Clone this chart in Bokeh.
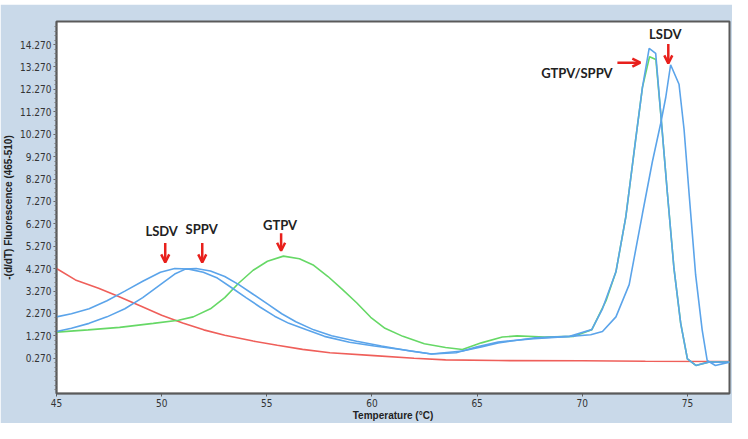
from bokeh.plotting import figure
from bokeh.models import Range1d, FixedTicker, Label, Arrow, OpenHead, Spacer
from bokeh.layouts import column
from bokeh.embed import file_html
from bokeh.resources import INLINE

# ---- data ----
red_t = [45, 45.9, 47, 47.9, 49, 50, 51, 52, 53, 54.35, 55.5, 56.7, 58, 60.1, 62, 63.5, 66, 70, 73, 77]
red_v = [4.28, 3.77, 3.40, 3.05, 2.60, 2.19, 1.85, 1.54, 1.30, 1.04, 0.85, 0.67, 0.52, 0.39, 0.27, 0.20, 0.17, 0.16, 0.14, 0.13]

gtpv_t = [45, 46.5, 48, 49.6, 50.8, 51.5, 52.32, 53.0, 53.67, 54.35, 55.03, 55.79, 56.55, 57.23, 57.91, 58.59,
          59.27, 59.94, 60.62, 61.47, 62.49, 63.5, 64.3, 65.2, 66.2, 66.9, 68.2, 69.6, 70.45, 71.13, 71.6, 72.07,
          72.54, 72.86, 73.2, 73.5, 73.73, 74.05, 74.36, 74.68, 75.0, 75.4, 76.0, 77.0]
gtpv_v = [1.44, 1.54, 1.65, 1.83, 1.97, 2.12, 2.48, 2.98, 3.63, 4.2, 4.6, 4.83, 4.71, 4.42, 3.92, 3.35,
          2.75, 2.1, 1.61, 1.25, 0.92, 0.75, 0.66, 0.96, 1.22, 1.27, 1.22, 1.25, 1.54, 2.84, 4.13, 6.58,
          10.05, 12.36, 13.73, 13.6, 11.2, 7.6, 4.28, 1.83, 0.24, -0.05, 0.10, 0.10]

sppv_t = [45, 45.71, 46.55, 47.4, 48.25, 49.1, 49.94, 50.62, 51.13, 51.64, 52.32, 53.0, 53.67, 54.35, 55.03,
          55.71, 56.38, 57.23, 58.08, 59.27, 60.45, 61.81, 62.83, 64.0, 65.0, 66.0, 67.7, 69.4, 70.45, 70.96,
          71.6, 72.07, 72.54, 72.86, 73.18, 73.49, 73.73, 74.05, 74.36, 74.68, 75.0, 75.4, 76.0, 77.0]
sppv_v = [1.47, 1.61, 1.83, 2.12, 2.48, 2.98, 3.56, 4.03, 4.25, 4.28, 4.17, 3.92, 3.56, 3.13, 2.70,
          2.26, 1.90, 1.54, 1.28, 1.03, 0.82, 0.60, 0.46, 0.52, 0.78, 1.0, 1.15, 1.25, 1.55, 2.48,
          4.13, 6.58, 10.05, 12.36, 14.1, 13.88, 11.2, 7.6, 4.28, 1.83, 0.24, -0.05, 0.10, 0.10]

lsdv_t = [45, 45.71, 46.55, 47.4, 48.25, 49.1, 49.94, 50.62, 51.3, 51.98, 52.65, 53.33, 54.01, 54.69, 55.37,
          56.05, 56.89, 57.74, 58.93, 60.11, 61.47, 62.83, 64.3, 65.2, 66.0, 67.7, 69.4, 70.4, 70.96, 71.6,
          72.23, 72.86, 73.33, 73.73, 73.97, 74.2, 74.6, 74.84, 75.08, 75.39, 75.7, 75.94, 76.33, 77.0]
lsdv_v = [2.12, 2.26, 2.48, 2.84, 3.27, 3.71, 4.11, 4.28, 4.25, 4.11, 3.85, 3.42, 2.98, 2.55, 2.15,
          1.83, 1.54, 1.25, 0.99, 0.82, 0.65, 0.46, 0.6, 0.78, 0.96, 1.18, 1.25, 1.32, 1.47, 2.12,
          3.56, 6.72, 9.03, 10.76, 11.92, 13.37, 12.5, 10.48, 7.6, 3.99, 1.54, 0.17, -0.05, 0.10]

x_ticks = [45, 50, 55, 60, 65, 70, 75]
x_tick_labels = ["45", "50", "55", "60", "65", "70", "75"]
y_ticks = [0.27, 1.27, 2.27, 3.27, 4.27, 5.27, 6.27, 7.27, 8.27, 9.27, 10.27, 11.27, 12.27, 13.27, 14.27]
y_tick_labels = ["0.270", "1.270", "2.270", "3.270", "4.270", "5.270", "6.270", "7.270", "8.270", "9.270",
                 "10.270", "11.270", "12.270", "13.270", "14.270"]

# annotations: (text, text x, text y, align, arrow x0, y0, x1, y1)
notes = [
    ("LSDV", 50.0, 5.94, "center", 50.17, 5.42, 50.17, 4.55),
    ("SPPV", 51.9, 6.03, "center", 51.93, 5.42, 51.93, 4.55),
    ("GTPV", 55.63, 6.24, "center", 55.68, 5.85, 55.68, 5.07),
    ("GTPV/SPPV", 71.44, 13.0, "right", 71.67, 13.46, 72.76, 13.46),
    ("LSDV", 73.95, 14.73, "center", 74.09, 14.3, 74.09, 13.43),
]

RED = "#ef5f5a"
GREEN = "#66d866"
BLUE = "#5ba4ea"
ARROW_RED = "#e8201c"
TICK_FONT = "'Liberation Sans Narrow', 'DejaVu Sans Condensed', 'Liberation Sans', sans-serif"

p = figure(width=732, height=419, x_range=Range1d(45, 77), y_range=Range1d(-1.3, 15.3),
           output_backend="svg", toolbar_location=None,
           min_border_left=55, min_border_top=17, min_border_right=3, min_border_bottom=20)
p.border_fill_color = "#c9d9e9"
p.background_fill_color = "white"
p.outline_line_color = "#5a5a5a"
p.outline_line_width = 2
p.grid.visible = False

p.line(red_t, red_v, line_color=RED, line_width=1.6)
p.line(gtpv_t, gtpv_v, line_color=GREEN, line_width=1.6)
p.line(lsdv_t, lsdv_v, line_color=BLUE, line_width=1.6)
p.line(sppv_t, sppv_v, line_color=BLUE, line_width=1.6)

for ax in (p.xaxis[0], p.yaxis[0]):
    ax.axis_line_color = "#5a5a5a"
    ax.axis_line_width = 1.5
    ax.major_tick_line_color = "#5a5a5a"
    ax.minor_tick_line_color = "#777777"
    ax.major_tick_out = 3
    ax.major_tick_in = 0
    ax.major_label_text_font = TICK_FONT
    ax.major_label_text_font_size = "10px"
    ax.major_label_text_color = "#333333"
    ax.major_label_standoff = 2
    ax.axis_label_text_font = "Liberation Sans"
    ax.axis_label_text_font_style = "bold"
    ax.axis_label_text_font_size = "10px"
    ax.axis_label_text_color = "#222222"

p.xaxis.ticker = FixedTicker(ticks=x_ticks, minor_ticks=[])
p.xaxis.major_label_overrides = dict(zip(x_ticks, x_tick_labels))
p.xaxis.axis_label = "Temperature (°C)"
p.xaxis.axis_label_standoff = 0

y_minor = [round(-1.13 + 0.2 * i, 2) for i in range(82)]
p.yaxis.ticker = FixedTicker(ticks=y_ticks, minor_ticks=y_minor)
p.yaxis.major_label_overrides = dict(zip(y_ticks, y_tick_labels))
p.yaxis.minor_tick_out = 2
p.yaxis.minor_tick_in = 0
p.yaxis.axis_label = "-(d/dT) Fluorescence (465-510)"
p.yaxis.axis_label_standoff = 3

for txt, tx, ty, align, ax0, ay0, ax1, ay1 in notes:
    p.add_layout(Label(x=tx, y=ty, text=txt, text_align=align, text_baseline="middle",
                       text_font="Lato", text_font_style="bold", text_font_size="13px",
                       text_color="#222222"))
    p.add_layout(Arrow(x_start=ax0, y_start=ay0, x_end=ax1, y_end=ay1,
                       line_color=ARROW_RED, line_width=2.5,
                       end=OpenHead(size=8, line_color=ARROW_RED, line_width=2.5)))

layout = column(Spacer(height=4, width=732), p)
open("out.html", "w").write(file_html(layout, INLINE))
